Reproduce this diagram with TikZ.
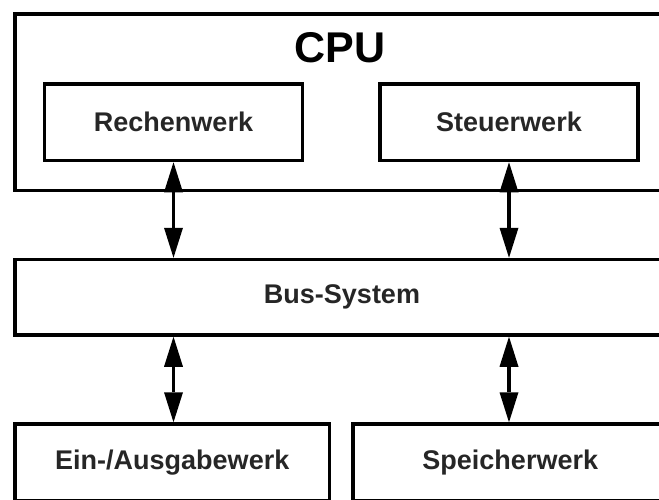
\documentclass[tikz,border=0pt]{standalone}
\usepackage{fontspec}
\setmainfont{Liberation Sans}
\usetikzlibrary{arrows.meta,positioning}

\begin{document}
\begin{tikzpicture}
	[x=1pt, y=-1pt, node distance = 20pt,
		% STYLES
		% The frame style is used for the large outer boxes
		frame/.style={rectangle, draw, line width=3.5pt, inner sep=0pt,
				minimum width=654pt},
		% The unit style is used for the functional units
		unit/.style={rectangle, draw, line width=3.5pt, inner sep=0pt,
				minimum width=258pt, minimum height=76.5pt, text=black!85,
				font=\bfseries\fontsize{27}{32}\selectfont},
		% The link style is used for the bus connections
		link/.style={line width=3.5pt,
				{Triangle[width=19pt,length=30pt,line width=0pt]}-{Triangle[width=19pt,length=30pt,line width=0pt]}}]

	\useasboundingbox (0,0) rectangle (659,499);
	\clip (0,0) rectangle (659,499);

	% Draw CPU
	\node [frame, minimum height=176.5pt, anchor=north west] (cpu) at (13.25,12.25) {};
	\node [font=\bfseries\fontsize{43}{48}\selectfont] (cpulabel) at (340,47.5) {CPU};
	\node [unit, below right=70pt and 29.5pt of cpu.north west] (rw) {Rechenwerk};
	\node [unit, right=74pt of rw] (sw) {Steuerwerk};

	% Draw bus
	\node [frame, minimum height=75.5pt, text=black!85,
		font=\bfseries\fontsize{27}{32}\selectfont,
		below=65.5pt of cpu] (bus) {Bus-System};

	% Draw periphery
	\node [unit, minimum width=314.5pt, below=85.5pt of bus.south west,
		anchor=north west] (io) {Ein-/Ausgabewerk};
	\node [unit, minimum width=314.5pt, right=20pt of io] (mem) {Speicherwerk};

	\draw[link] (rw.south) -- (rw.south |- bus.north);
	\draw[link] (sw.south) -- (sw.south |- bus.north);
	\draw[link] (rw.south |- bus.south) -- (rw.south |- io.north);
	\draw[link] (sw.south |- bus.south) -- (sw.south |- mem.north);

\end{tikzpicture}
\end{document}
